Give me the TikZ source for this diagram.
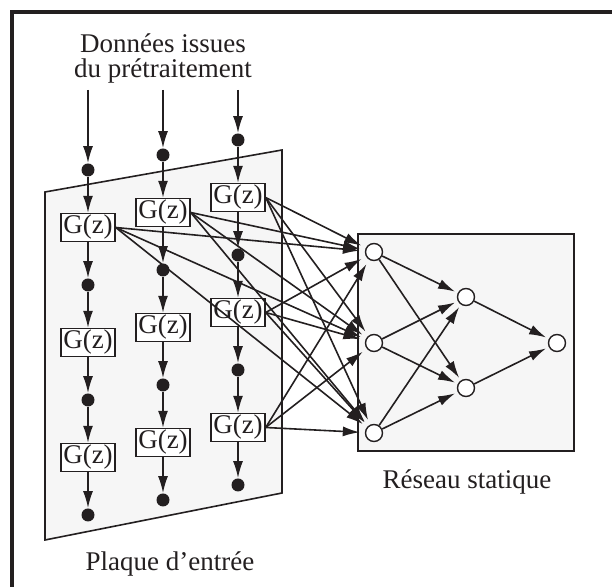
\documentclass[tikz,border=0pt]{standalone}
\usepackage{fontspec}
\setmainfont{Liberation Serif}
\usetikzlibrary{positioning, calc, arrows.meta}
\definecolor{ink}{RGB}{35,31,32}
\definecolor{plategray}{RGB}{246,246,246}
\tikzset{
  every node/.style={font=\fontsize{13.5}{12.5}\selectfont, text=ink},
  gbox/.style={draw=ink, fill=white, line width=0.7pt, minimum width=27pt, minimum height=14pt, inner sep=0.5pt},
  dot/.style={circle, fill=ink, inner sep=0pt, minimum size=6.5pt},
  neuron/.style={circle, draw=ink, fill=white, line width=0.7pt, inner sep=0pt, minimum size=8.5pt},
  edge/.style={draw=ink, line width=0.8pt, -{Latex[length=8.5pt, width=5pt]}},
  plate/.style={fill=plategray, draw=ink, line width=0.8pt},
  caption/.style={align=center},
}

\begin{document}
\begin{tikzpicture}[x=0.5pt, y=-0.5pt]
  \useasboundingbox (0,0) rectangle (612,587);
  % ---- outer frame (top and left edge only) -------------------------------
  \draw[ink, line width=1.6pt] (12,587) -- (12,12) -- (612,12);

  % ---- input plate and static network box ---------------------------------
  \draw[plate] (45,192) -- (282,150) -- (282,493) -- (45,540) -- cycle;
  \draw[plate] (358,234) rectangle (574,451);

  % ---- delay columns -------------------------------------------------------
  \foreach \c/\x/\y in {1/88/170, 2/163/155, 3/238/140} {
    \coordinate (t\c) at (\x,90);
    \foreach \k in {0,...,6} {
      \ifodd\k\relax
        \node[gbox] (c\c\k) at (\x,{\y+57.5*\k}) {G(z)};
      \else
        \node[dot] (c\c\k) at (\x,{\y+57.5*\k}) {};
      \fi
    }
    \draw[edge] (t\c) -- (c\c0);
    \foreach \k [evaluate=\k as \j using int(\k+1)] in {0,...,5}
      \draw[edge] (c\c\k) -- (c\c\j);
  }

  % ---- static network neurons ---------------------------------------------
  \node[neuron] (i1) at (374,252) {};
  \node[neuron] (i2) at (374,343) {};
  \node[neuron] (i3) at (374,433) {};
  \node[neuron] (h1) at (466,297) {};
  \node[neuron] (h2) at (466,388) {};
  \node[neuron] (out) at (557,343) {};

  % ---- connections ---------------------------------------------------------
  \foreach \s in {c11,c21,c31,c33,c35}
    \foreach \n in {i1,i2,i3}
      \draw[edge, shorten >=2.5pt] (\s.east) -- (\n);
  \foreach \s in {i1,i2,i3}
    \foreach \n in {h1,h2}
      \draw[edge, shorten >=1.5pt] (\s) -- (\n);
  \foreach \s in {h1,h2} \draw[edge, shorten >=1.5pt] (\s) -- (out);

  % ---- labels --------------------------------------------------------------
  \node[caption] (title) at (163,58) {Données issues\\du prétraitement};
  \node[caption] (platelab) at (170,564) {Plaque d’entrée};
  \node[caption] (netlab) at (467,482) {Réseau statique};
\end{tikzpicture}
\end{document}
